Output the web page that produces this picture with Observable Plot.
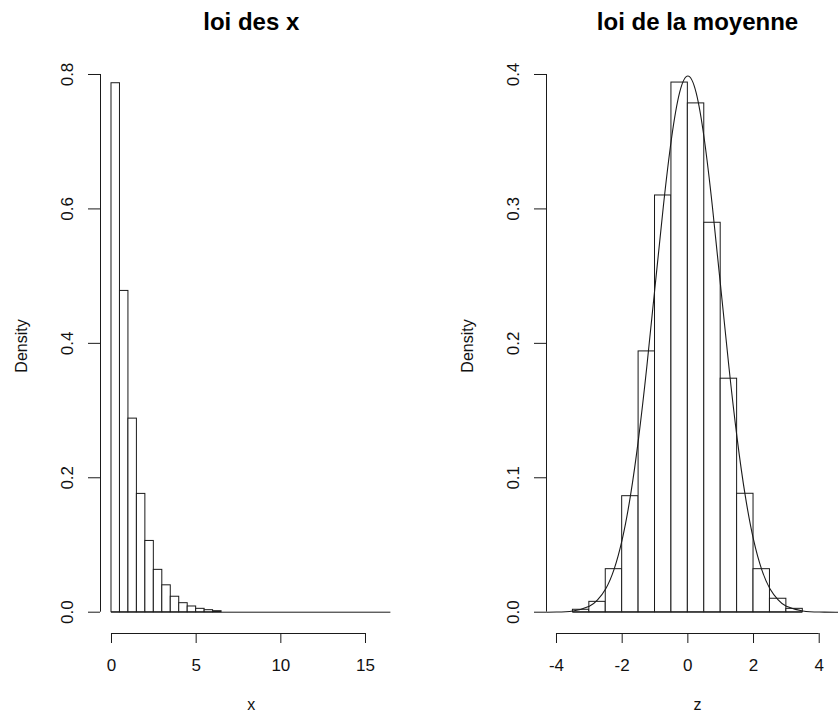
<!DOCTYPE html>
<html><head><meta charset="utf-8">
<script src="https://cdn.jsdelivr.net/npm/d3@7"></script>
<script src="https://cdn.jsdelivr.net/npm/@observablehq/plot@0.6"></script>
<style>
html,body{margin:0;padding:0;background:#fff;overflow:hidden}
#wrap{position:relative;width:838px;height:713px;overflow:hidden;background:#fff}
#left,#right{position:absolute;top:0}
#left{left:0;width:419px}
#right{left:419px;width:429px}
svg{max-width:none !important}
svg text{font-family:"Liberation Sans",Arial,sans-serif}
</style></head><body>
<div id="wrap"><div id="left"></div><div id="right"></div></div>
<script>
// ---- left panel: histogram of x (bins of width 0.5) ----
const xBinStart = [0,0.5,1,1.5,2,2.5,3,3.5,4,4.5,5,5.5,6,6.5,7,7.5,8,8.5,9,9.5,10,10.5,11,11.5,12,12.5,13,13.5,14,14.5,15,15.5,16];
const xDensity  = [0.787,0.478,0.288,0.176,0.106,0.063,0.040,0.023,0.0134,0.0085,0.005,0.003,0.0015,0,0,0,0,0,0,0,0,0,0,0,0,0,0,0,0,0,0,0,0];
const xTicks = [0,5,10,15];
const yTicksLeft = [0,0.2,0.4,0.6,0.8];

// ---- right panel: histogram of the standardized mean z ----
const zBinStart = [-3.5,-3,-2.5,-2,-1.5,-1,-0.5,0,0.5,1,1.5,2,2.5,3];
const zDensity  = [0.0018,0.0077,0.032,0.0863,0.194,0.310,0.394,0.3785,0.2897,0.1737,0.0881,0.032,0.010,0.0025];
const zTicks = [-4,-2,0,2,4];
const yTicksRight = [0,0.1,0.2,0.3,0.4];

// density curve drawn over the right histogram
const curveZ = [-4.3,-4,-3.5,-3,-2.75,-2.5,-2.25,-2,-1.75,-1.5,-1.25,-1,-0.75,-0.5,-0.25,0,0.25,0.5,0.75,1,1.25,1.5,1.75,2,2.25,2.5,2.75,3,3.5,4,4.5,4.9];
const curveD = [0,0.0001,0.0009,0.0044,0.0091,0.0175,0.0317,0.054,0.0863,0.1295,0.1826,0.242,0.3011,0.352,0.3867,0.3989,0.3867,0.352,0.3011,0.242,0.1826,0.1295,0.0863,0.054,0.0317,0.0175,0.0091,0.0044,0.0009,0.0001,0,0];

const binW = 0.5;
const FONT = '"Liberation Sans", Arial, sans-serif';
const STROKE = "#1a1a1a";
const TXT = {textAnchor: "middle", lineAnchor: "middle"};

function panel({bins, dens, xDomain, yDomain, xTicks, yTicks, marginLeft, marginRight, width, title, xlab, curve}) {
  const data = bins.map((b, i) => ({x1: b, x2: b + binW, d: dens[i]}));
  const yMin = yDomain[0];
  const marks = [
    // zero-height bins show as a line along the baseline
    Plot.ruleY([0], {y: d => d, x1: () => bins[0], x2: () => bins[bins.length - 1] + binW, stroke: STROKE, strokeWidth: 1}),
    Plot.rectY(data.filter(d => d.d > 0), {x1: "x1", x2: "x2", y: "d", fill: "white", stroke: STROKE, strokeWidth: 1}),
  ];
  if (curve) {
    marks.push(Plot.line(curve.x.map((v, i) => ({x: v, y: curve.y[i]})), {x: "x", y: "y", curve: "natural", stroke: STROKE, strokeWidth: 1.1}));
  }
  marks.push(
    // x axis line (from first to last tick) + ticks
    Plot.ruleY([yMin], {y: d => d, x1: () => xTicks[0], x2: () => xTicks[xTicks.length - 1], stroke: STROKE, strokeWidth: 1}),
    Plot.axisX({ticks: xTicks, tickSize: 10, tickFormat: () => "", label: null, stroke: STROKE}),
    Plot.text(xTicks, {x: d => d, frameAnchor: "bottom", dy: 32, text: d => String(d), fontSize: 17, fill: "#111", ...TXT}),
    // y axis line + ticks
    Plot.ruleX([xDomain[0]], {x: d => d, y1: () => yTicks[0], y2: () => yTicks[yTicks.length - 1], stroke: STROKE, strokeWidth: 1}),
    Plot.axisY({ticks: yTicks, tickSize: 12, tickFormat: () => "", label: null, stroke: STROKE}),
    Plot.text(yTicks, {y: d => d, frameAnchor: "left", dx: -33, rotate: -90, text: d => d.toFixed(1), fontSize: 17, fill: "#111", ...TXT}),
    // titles
    Plot.text([title], {frameAnchor: "top", dy: -36, text: d => d, fontSize: 24, fontWeight: "bold", fill: "#000", ...TXT}),
    Plot.text([xlab], {frameAnchor: "bottom", dy: 71, text: d => d, fontSize: 16, fill: "#111", ...TXT}),
    Plot.text(["Density"], {frameAnchor: "left", dx: -79, rotate: -90, text: d => d, fontSize: 16, fill: "#111", ...TXT})
  );
  return Plot.plot({
    width, height: 713,
    marginLeft, marginRight, marginTop: 58, marginBottom: 80,
    x: {domain: xDomain},
    y: {domain: yDomain},
    style: {fontFamily: FONT, background: "white", color: "black", overflow: "visible"},
    marks
  });
}

document.getElementById("left").appendChild(panel({
  bins: xBinStart, dens: xDensity,
  xDomain: [-0.6496, 17.156], yDomain: [-0.0317, 0.8238],
  xTicks, yTicks: yTicksLeft,
  marginLeft: 100, marginRight: 17.5, width: 419,
  title: "loi des x", xlab: "x"
}));

document.getElementById("right").appendChild(panel({
  bins: zBinStart, dens: zDensity,
  xDomain: [-4.3045, 4.892], yDomain: [-0.01585, 0.4119],
  xTicks: zTicks, yTicks: yTicksRight,
  marginLeft: 127, marginRight: 0, width: 429,
  title: "loi de la moyenne", xlab: "z",
  curve: {x: curveZ, y: curveD}
}));
</script>
</body></html>
